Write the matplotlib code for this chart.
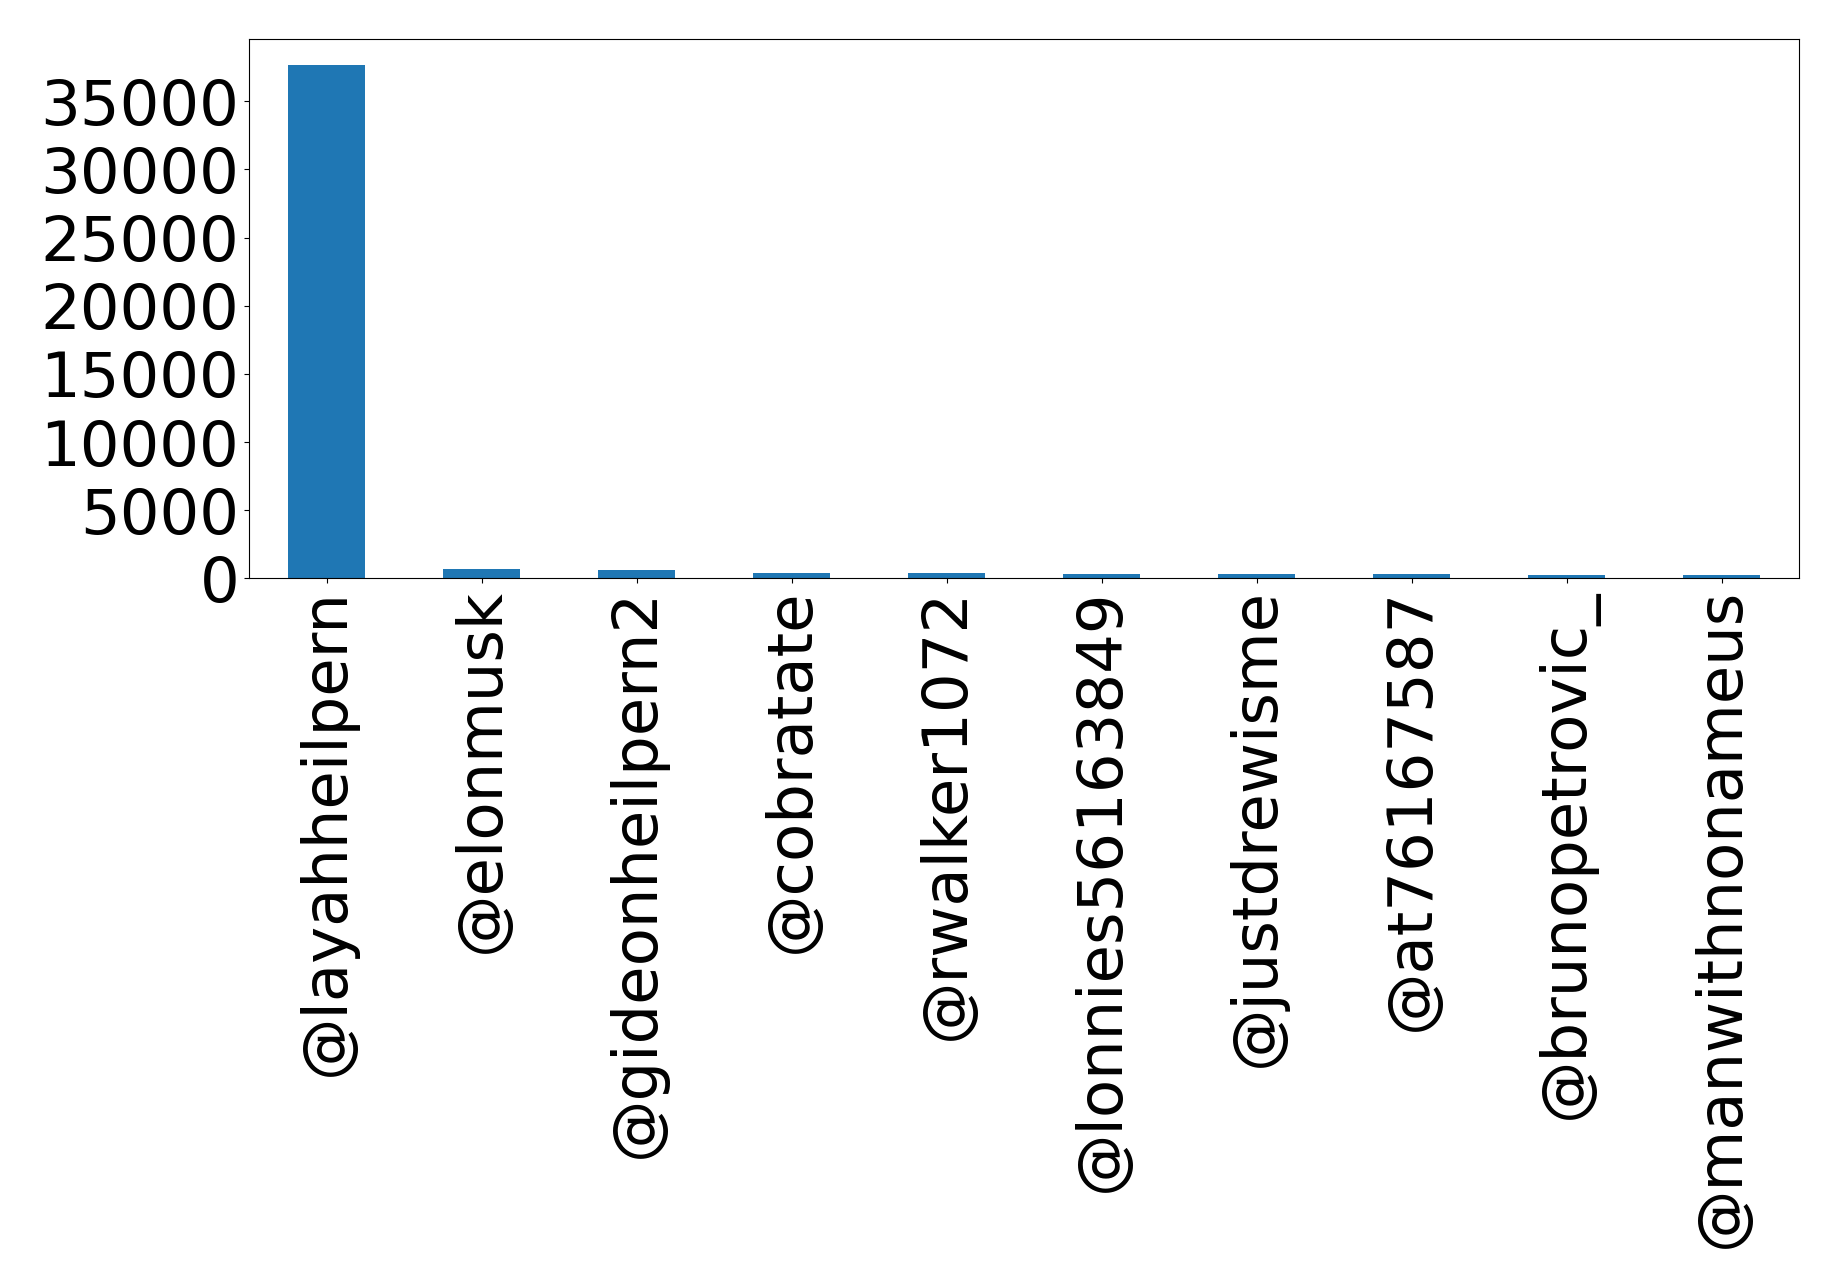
import matplotlib
matplotlib.use("Agg")
import matplotlib.pyplot as plt
from matplotlib.ticker import MultipleLocator
import pandas as pd

# Cuentas y número de menciones
cuentas = ['@layahheilpern', '@elonmusk', '@gideonheilpern2', '@cobratate',
           '@rwalker1072', '@lonnies56163849', '@justdrewisme', '@at76167587',
           '@brunopetrovic_', '@manwithnonameus']
menciones = [37670, 680, 610, 390, 385, 320, 315, 310, 245, 225]

serie = pd.Series(menciones, index=cuentas)

fig = plt.figure(figsize=(18.38, 12.88), dpi=100)
ax = fig.add_axes([0.1355, 0.551, 0.9788 - 0.1355, 0.9695 - 0.551])
serie.plot(kind='bar', ax=ax, color='#1f77b4', fontsize=45)
ax.yaxis.set_major_locator(MultipleLocator(5000))
ax.tick_params(axis='both', labelsize=45)
plt.setp(ax.get_xticklabels(), rotation=90)

fig.savefig('out.png', dpi=100)
